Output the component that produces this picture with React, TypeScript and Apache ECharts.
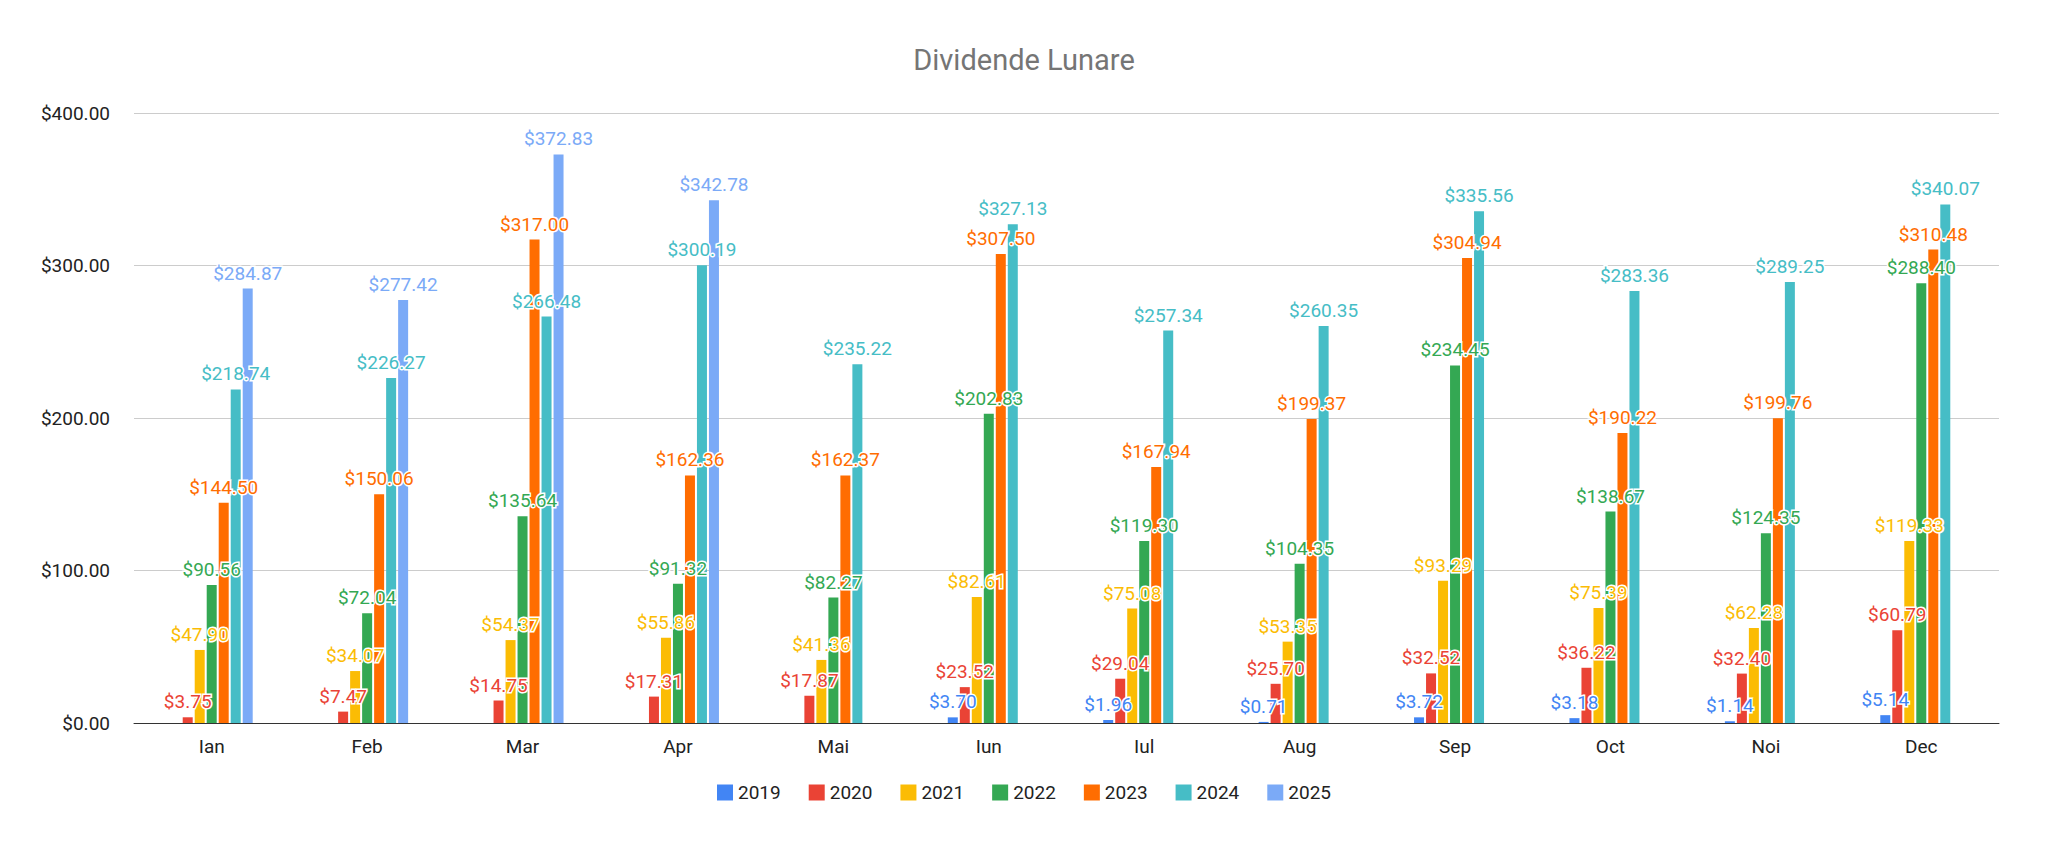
import React, { useEffect, useRef } from "react";
import * as echarts from "echarts";

const months = ["Ian", "Feb", "Mar", "Apr", "Mai", "Iun", "Iul", "Aug", "Sep", "Oct", "Noi", "Dec"];
const years = ["2019", "2020", "2021", "2022", "2023", "2024", "2025"];
const colors = ["#4285F4", "#EA4335", "#FBBC04", "#34A853", "#FF6D01", "#46BDC6", "#7BAAF7"];

const v2019 = [null, null, null, null, null, 3.7, 1.96, 0.71, 3.72, 3.18, 1.14, 5.14];
const v2020 = [3.75, 7.47, 14.75, 17.31, 17.87, 23.52, 29.04, 25.7, 32.52, 36.22, 32.4, 60.79];
const v2021 = [47.9, 34.07, 54.37, 55.86, 41.36, 82.61, 75.08, 53.35, 93.29, 75.39, 62.28, 119.33];
const v2022 = [90.56, 72.04, 135.64, 91.32, 82.27, 202.83, 119.3, 104.35, 234.45, 138.67, 124.35, 288.4];
const v2023 = [144.5, 150.06, 317.0, 162.36, 162.37, 307.5, 167.94, 199.37, 304.94, 190.22, 199.76, 310.48];
const v2024 = [218.74, 226.27, 266.48, 300.19, 235.22, 327.13, 257.34, 260.35, 335.56, 283.36, 289.25, 340.07];
const v2025 = [284.87, 277.42, 372.83, 342.78, null, null, null, null, null, null, null, null];
const values = [v2019, v2020, v2021, v2022, v2023, v2024, v2025];

const money = (v: number) => "$" + v.toFixed(2);

const App: React.FC = () => {
  const chartRef = useRef<HTMLDivElement>(null);

  useEffect(() => {
    if (!chartRef.current) return;
    const chart = echarts.init(chartRef.current, null, { renderer: "svg" });

    chart.setOption({
      animation: false,
      textStyle: { fontFamily: "Roboto" },
      title: {
        text: "Dividende Lunare",
        left: "center",
        top: 32,
        textStyle: { fontSize: 29, fontWeight: "normal", color: "#757575", fontFamily: "Roboto" },
      },
      legend: {
        data: years,
        bottom: 30,
        icon: "rect",
        itemWidth: 16,
        itemHeight: 16,
        itemGap: 28,
        textStyle: { fontSize: 19, color: "#222" },
      },
      grid: { left: 126, right: 41, top: 105, bottom: 114 },
      xAxis: {
        type: "category",
        data: months,
        axisTick: { show: false },
        axisLine: { lineStyle: { color: "#333" } },
        axisLabel: { fontSize: 19, color: "#222", margin: 14 },
      },
      yAxis: {
        type: "value",
        min: 0,
        max: 400,
        interval: 100,
        axisLabel: { fontSize: 19, color: "#222", formatter: money, margin: 24 },
        splitLine: { lineStyle: { color: "#ccc" } },
      },
      series: years.map((y, i) => ({
        name: y,
        type: "bar",
        data: values[i],
        barWidth: 10,
        barGap: "20%",
        itemStyle: { color: colors[i] },
        label: {
          show: true,
          position: "top",
          distance: 6,
          fontSize: 19,
          color: colors[i],
          textBorderColor: "#fff",
          textBorderWidth: 3,
          formatter: (p: any) => money(p.value),
        },
      })),
    });

    return () => chart.dispose();
  }, []);

  return <div ref={chartRef} style={{ width: 2032, height: 829 }} />;
};

export default App;
